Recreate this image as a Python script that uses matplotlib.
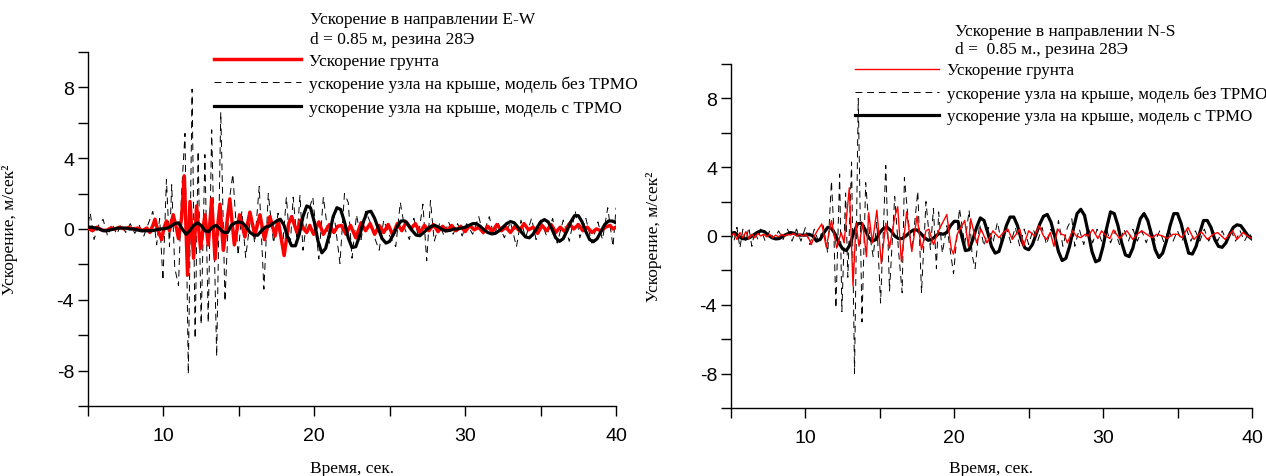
import numpy as np
import matplotlib
matplotlib.use("Agg")
import matplotlib.pyplot as plt
from matplotlib.ticker import MultipleLocator

plt.rcParams["axes.unicode_minus"] = False

# ---- data (time, sec / acceleration, m/s^2) ----

# E-W, ground acceleration (turning points)
ew_ground = [
    (5.0, 0.05), (5.3, -0.1), (5.6, 0.1), (5.9, -0.05), (6.2, -0.1), (6.5, 0.05),
    (6.8, 0.0), (7.1, 0.1), (7.4, 0.0), (7.7, 0.08), (8.0, 0.0), (8.3, 0.05),
    (8.6, -0.1), (8.9, 0.05), (9.1, -0.2), (9.3, 0.2), (9.44, 0.55), (9.6, 0.0),
    (9.88, -0.6), (10.05, 0.1), (10.2, 0.45), (10.4, -0.1), (10.65, 0.8), (10.85, 0.1),
    (11.0, -0.55), (11.2, 0.6), (11.38, 3.0), (11.6, -2.6), (11.76, 1.55), (12.0, -1.65),
    (12.2, 1.3), (12.46, -1.1), (12.75, 0.8), (12.97, -0.9), (13.2, 1.7), (13.42, -1.7),
    (13.6, 0.2), (13.75, 1.4), (13.97, -1.2), (14.2, 0.3), (14.4, 1.7), (14.7, -0.9),
    (15.05, 0.8), (15.4, -0.45), (15.73, 0.95), (16.06, -0.35), (16.4, 0.8), (16.7, -0.6),
    (17.06, 0.7), (17.4, -0.4), (17.6, 0.5), (18.0, -1.5), (18.3, 0.3), (18.5, 0.7),
    (18.85, -0.2), (19.07, 0.5), (19.3, 0.0), (19.5, -0.2), (19.7, 0.2), (19.95, -0.3),
    (20.3, 0.4), (20.6, -0.3), (21.0, 0.25), (21.3, -0.2), (21.55, 0.15), (21.8, 0.2),
    (22.1, -0.3), (22.4, 0.2), (22.75, -0.5), (23.1, 0.35), (23.4, -0.1), (23.7, 0.3),
    (24.0, -0.3), (24.3, 0.2), (24.6, -0.2), (24.9, 0.25), (25.2, -0.35), (25.5, 0.3),
    (25.8, -0.1), (26.1, 0.4), (26.4, 0.0), (26.7, 0.3), (27.0, -0.2), (27.3, 0.2),
    (27.6, -0.1), (27.9, 0.25), (28.2, -0.15), (28.5, 0.15), (28.8, -0.1), (29.1, 0.2),
    (29.4, -0.1), (29.7, 0.15), (30.0, -0.15), (30.3, 0.2), (30.6, -0.05), (30.9, 0.1),
    (31.2, -0.2), (31.5, 0.15), (31.8, -0.15), (32.1, 0.25), (32.4, -0.1), (32.7, 0.1),
    (33.0, -0.2), (33.3, 0.15), (33.6, -0.1), (33.9, 0.3), (34.2, -0.05), (34.5, 0.1),
    (34.8, -0.25), (35.1, 0.2), (35.4, -0.1), (35.7, 0.25), (36.0, -0.2), (36.3, 0.1),
    (36.6, -0.15), (36.9, 0.3), (37.2, 0.0), (37.5, 0.25), (37.8, -0.1), (38.1, 0.1),
    (38.4, -0.2), (38.7, 0.0), (39.0, -0.1), (39.3, 0.1), (39.6, 0.2), (39.8, 0.0),
    (40.0, 0.1),
]

# E-W, roof node, model without TRMO (turning points)
ew_roof_no = [
    (5.0, 0.3), (5.15, 0.9), (5.4, -0.6), (5.7, 0.2), (6.0, 0.55), (6.3, -0.4),
    (6.6, 0.3), (6.9, -0.3), (7.2, 0.25), (7.5, -0.2), (7.8, 0.3), (8.1, -0.25),
    (8.4, 0.2), (8.7, -0.4), (9.0, 0.3), (9.3, 1.0), (9.55, -0.9), (9.75, 0.6),
    (9.97, -2.9), (10.2, 2.8), (10.4, -1.0), (10.55, 2.5), (10.75, -2.2), (11.0, -3.2),
    (11.2, 2.0), (11.43, 5.4), (11.65, -8.2), (11.9, 7.9), (12.1, -6.2), (12.3, 4.4),
    (12.5, -5.4), (12.75, 4.2), (12.97, -5.3), (13.2, 5.6), (13.53, -7.2), (13.8, 6.6),
    (14.08, -4.1), (14.35, 1.5), (14.6, 3.1), (14.95, -1.5), (15.2, 1.0), (15.45, -1.6),
    (15.8, 0.8), (16.05, -0.8), (16.35, 2.4), (16.66, -3.4), (16.95, 2.0), (17.3, -0.8),
    (17.6, 0.9), (17.9, -1.0), (18.15, 1.8), (18.4, -1.0), (18.6, 1.8), (18.85, -0.6),
    (19.05, 1.9), (19.25, -1.2), (19.55, 0.8), (19.9, 1.8), (20.3, -1.7), (20.6, 1.8),
    (21.0, -0.8), (21.3, 0.9), (21.7, -1.95), (22.0, 2.0), (22.25, 1.5), (22.5, -1.65),
    (22.8, 0.8), (23.1, -0.6), (23.4, 1.0), (23.7, 0.4), (24.0, -0.5), (24.3, -1.2),
    (24.6, 0.5), (25.0, -0.4), (25.4, -1.0), (25.7, 1.5), (26.0, 0.0), (26.3, -0.6),
    (26.6, 0.6), (26.9, -0.4), (27.2, 1.4), (27.45, -1.8), (27.7, 1.6), (27.95, -0.7),
    (28.3, 0.3), (28.6, -0.4), (28.9, 0.4), (29.2, -0.3), (29.5, 0.3), (29.8, -0.4),
    (30.1, 0.3), (30.5, -0.3), (30.9, 0.7), (31.2, -0.3), (31.6, 0.7), (31.9, -0.4),
    (32.2, 0.3), (32.6, -0.5), (33.0, 0.4), (33.4, -1.0), (33.7, 0.5), (34.0, -0.5),
    (34.4, 0.6), (34.7, -0.6), (35.0, 0.5), (35.4, -0.4), (35.8, 0.6), (36.1, -0.8),
    (36.5, 0.5), (36.9, -0.7), (37.3, 1.0), (37.6, -0.5), (38.0, 0.6), (38.4, -0.8),
    (38.8, 0.4), (39.1, -0.6), (39.45, 1.2), (39.8, -1.0), (40.0, 1.2),
]

# E-W, roof node, model with TRMO: one row per second, values at .00 .25 .50 .75
ew_roof_trmo = [
    0.10, 0.10, 0.05, 0.00,      # 5
    -0.10, -0.10, -0.05, 0.00,   # 6
    0.05, 0.05, 0.05, 0.00,      # 7
    0.00, -0.05, -0.10, -0.10,   # 8
    -0.10, -0.10, -0.05, 0.00,   # 9
    0.00, 0.05, 0.15, 0.30,      # 10
    0.35, 0.00, -0.30, -0.10,    # 11
    0.20, 0.35, 0.20, -0.10,     # 12
    -0.15, 0.10, 0.20, 0.00,     # 13
    -0.20, -0.20, 0.20, 0.35,    # 14
    0.40, 0.35, 0.10, -0.20,     # 15
    -0.35, -0.35, -0.10, 0.10,   # 16
    0.15, 0.30, 0.45, 0.55,      # 17
    0.20, -0.50, -0.95, -0.95,   # 18
    -0.30, 0.70, 1.30, 1.20,     # 19
    0.40, -0.70, -1.35, -1.10,   # 20
    -0.30, 0.70, 1.20, 1.10,     # 21
    0.40, -0.50, -1.05, -1.00,   # 22
    -0.40, 0.40, 0.95, 1.00,     # 23
    0.60, 0.00, -0.55, -0.80,    # 24
    -0.70, -0.30, 0.15, 0.45,    # 25
    0.45, 0.20, -0.10, -0.35,    # 26
    -0.38, -0.20, 0.00, 0.15,    # 27
    0.20, 0.10, -0.05, -0.10,    # 28
    -0.08, 0.00, 0.00, 0.05,     # 29
    0.10, 0.20, 0.30, 0.30,      # 30
    0.15, -0.05, -0.20, -0.28,   # 31
    -0.25, -0.10, 0.10, 0.30,    # 32
    0.42, 0.35, 0.10, -0.20,     # 33
    -0.45, -0.50, -0.30, 0.05,   # 34
    0.40, 0.53, 0.40, 0.00,      # 35
    -0.50, -0.70, -0.55, -0.10,  # 36
    0.40, 0.75, 0.75, 0.40,      # 37
    -0.15, -0.60, -0.72, -0.55,  # 38
    -0.15, 0.25, 0.45, 0.45,     # 39
    0.35,                        # 40
]

# N-S, ground acceleration (turning points)
ns_ground = [
    (5.0, 0.0), (5.2, 0.15), (5.4, -0.2), (5.6, 0.2), (5.8, -0.1), (6.0, 0.25),
    (6.2, -0.15), (6.4, 0.1), (6.6, -0.1), (6.8, 0.15), (7.0, 0.0), (7.2, 0.1),
    (7.4, -0.05), (7.6, 0.1), (7.8, -0.1), (8.0, 0.05), (8.2, -0.05), (8.4, 0.1),
    (8.6, 0.0), (8.8, 0.1), (9.0, 0.05), (9.2, 0.15), (9.4, 0.0), (9.6, 0.1),
    (9.8, 0.0), (10.0, 0.1), (10.2, -0.1), (10.4, -0.5), (10.6, 0.0), (10.8, 0.3),
    (11.1, 0.7), (11.4, -0.65), (11.75, 0.9), (12.1, -0.7), (12.4, 0.2), (12.6, -0.4),
    (12.95, 2.8), (13.2, -2.9), (13.4, 0.75), (13.6, -0.6), (13.85, 0.75), (14.1, -1.2),
    (14.25, 1.35), (14.5, -0.4), (14.8, 1.5), (15.1, -1.6), (15.4, 0.75), (15.65, -0.7),
    (16.0, 1.1), (16.2, 1.7), (16.45, -1.5), (16.8, 1.4), (17.15, -0.9), (17.5, 1.15),
    (17.8, -0.8), (18.1, 0.3), (18.3, 0.4), (18.6, -0.5), (19.0, 0.4), (19.5, 1.25),
    (19.8, -0.75), (19.95, -1.05), (20.2, 0.1), (20.7, 0.9), (20.95, -0.6), (21.1, 1.0),
    (21.5, -0.4), (21.8, 0.4), (22.2, -0.4), (22.6, 0.3), (23.0, -0.1), (23.3, 0.2),
    (23.6, 0.4), (23.9, -0.2), (24.4, 0.4), (24.65, -0.6), (25.0, 0.3), (25.4, 0.0),
    (25.7, 0.6), (26.0, 0.0), (26.2, -0.2), (26.45, 0.2), (26.7, -0.6), (26.95, 0.4),
    (27.2, 0.1), (27.4, 0.05), (27.6, -0.4), (27.95, 0.3), (28.2, 0.0), (28.5, -0.1),
    (28.8, 0.1), (29.0, 0.0), (29.3, 0.38), (29.65, -0.15), (29.9, 0.3), (30.2, 0.0),
    (30.45, -0.15), (30.7, 0.35), (31.1, -0.15), (31.6, 0.3), (32.0, -0.2), (32.3, 0.1),
    (32.6, 0.3), (33.0, 0.05), (33.3, -0.1), (33.6, 0.1), (34.0, 0.0), (34.3, -0.15),
    (34.7, 0.1), (35.0, 0.1), (35.3, -0.1), (35.7, 0.5), (36.1, -0.2), (36.6, 0.25),
    (37.0, -0.2), (37.4, 0.1), (37.7, 0.2), (38.2, -0.2), (38.4, 0.0), (38.7, 0.3),
    (39.0, -0.2), (39.4, 0.2), (39.7, 0.0), (40.0, -0.15),
]

# N-S, roof node, model without TRMO (turning points)
ns_roof_no = [
    (5.0, 0.3), (5.2, -0.3), (5.4, 0.5), (5.6, -0.7), (5.8, 0.4), (6.0, -0.3),
    (6.2, 0.5), (6.4, -0.6), (6.6, 0.3), (6.8, -0.2), (7.0, 0.4), (7.3, -0.3),
    (7.6, 0.3), (7.9, -0.2), (8.2, 0.3), (8.5, -0.2), (8.8, 0.4), (9.1, -0.3),
    (9.4, 0.4), (9.7, -0.3), (10.0, 0.5), (10.3, -0.5), (10.6, 0.4), (10.9, -0.4),
    (11.2, 0.6), (11.5, -1.0), (11.75, 3.2), (11.9, 0.5), (12.05, -4.2), (12.3, 3.6),
    (12.45, -4.4), (12.7, 2.5), (12.85, -2.4), (13.1, 4.3), (13.3, -8.0), (13.55, 8.0),
    (13.8, -5.0), (14.05, 3.1), (14.3, 0.2), (14.55, -1.2), (14.8, 0.8), (15.05, -3.9),
    (15.4, 4.1), (15.65, -3.2), (16.0, 2.3), (16.25, -0.8), (16.5, -3.3), (16.65, 3.4),
    (16.9, 1.0), (17.15, -0.9), (17.55, 2.6), (17.8, -3.3), (18.1, 2.0), (18.4, -0.8),
    (18.6, 1.6), (18.8, -1.9), (18.95, 1.4), (19.2, -1.0), (19.5, 0.6), (19.95, -2.2),
    (20.35, 1.6), (20.7, -0.5), (21.0, 1.5), (21.2, -1.1), (21.4, -1.9), (21.7, 0.7),
    (22.0, -0.6), (22.3, 0.5), (22.6, -0.4), (22.9, 0.8), (23.2, -0.5), (23.5, 0.5),
    (23.8, -0.4), (24.1, 0.5), (24.4, -0.6), (24.7, 0.4), (25.0, -0.5), (25.3, 0.4),
    (25.6, -0.3), (25.9, 0.5), (26.2, -0.5), (26.5, 0.4), (26.8, -0.4), (27.0, 0.9),
    (27.3, -0.6), (27.6, 0.5), (27.9, 1.0), (28.1, -0.6), (28.4, 0.4), (28.7, -0.5),
    (29.0, 0.5), (29.3, -0.4), (29.6, 0.4), (29.9, -0.3), (30.2, 0.5), (30.5, -0.4),
    (30.8, 0.3), (31.1, -0.5), (31.4, 0.4), (31.7, -0.3), (32.0, 0.4), (32.3, -0.3),
    (32.6, 0.3), (32.9, -0.4), (33.2, 0.4), (33.5, -0.3), (33.8, 0.3), (34.1, -0.4),
    (34.4, 0.4), (34.7, -0.3), (35.0, 0.3), (35.3, -0.3), (35.6, 0.4), (35.9, -0.3),
    (36.2, 0.3), (36.5, -0.3), (36.8, 0.4), (37.1, -0.3), (37.4, 0.3), (37.7, -0.3),
    (38.0, 0.3), (38.3, -0.3), (38.6, 0.3), (38.9, -0.3), (39.2, 0.3), (39.5, -0.3),
    (39.8, 0.2), (40.0, -0.1),
]

# N-S, roof node, model with TRMO: one row per second, values at .00 .25 .50 .75
ns_roof_trmo = [
    0.15, 0.20, 0.00, -0.15,     # 5
    -0.17, -0.10, 0.05, 0.20,    # 6
    0.30, 0.25, 0.05, -0.10,     # 7
    -0.17, -0.15, 0.00, 0.10,    # 8
    0.20, 0.15, 0.05, 0.05,      # 9
    0.05, 0.10, 0.00, -0.30,     # 10
    -0.20, 0.20, 0.50, 0.45,     # 11
    0.10, -0.40, -0.75, -0.85,   # 12
    -0.50, 0.20, 0.70, 0.75,     # 13
    0.40, -0.10, -0.30, -0.20,   # 14
    0.20, 0.45, 0.50, 0.30,      # 15
    0.00, -0.15, -0.15, 0.00,    # 16
    0.20, 0.35, 0.35, 0.15,      # 17
    -0.10, -0.25, -0.20, 0.00,   # 18
    0.15, 0.10, 0.20, 0.60,      # 19
    0.85, 0.85, 0.00, -0.85,     # 20
    -0.80, -0.20, 0.50, 1.05,    # 21
    0.90, 0.20, -0.60, -1.00,    # 22
    -0.90, -0.20, 0.60, 1.10,    # 23
    1.10, 0.60, -0.20, -0.70,    # 24
    -0.80, -0.50, 0.10, 0.70,    # 25
    1.15, 1.25, 0.80, 0.00,      # 26
    -0.90, -1.43, -1.30, -0.60,  # 27
    0.40, 1.30, 1.55, 1.20,      # 28
    0.20, -0.90, -1.50, -1.40,   # 29
    -0.60, 0.50, 1.40, 1.30,     # 30
    0.60, -0.40, -1.10, -1.20,   # 31
    -0.70, 0.20, 1.00, 1.30,     # 32
    0.90, 0.10, -0.80, -1.25,    # 33
    -1.00, -0.30, 0.60, 1.30,    # 34
    1.30, 0.70, -0.20, -1.00,    # 35
    -1.05, -0.60, 0.20, 0.90,    # 36
    0.90, 0.50, -0.20, -0.60,    # 37
    -0.66, -0.40, 0.10, 0.50,    # 38
    0.65, 0.60, 0.30, 0.00,      # 39
    -0.17,                       # 40
]

t_trmo = np.arange(5, 40.001, 0.25)

labels = [
    "Ускорение грунта",
    "ускорение узла на крыше, модель без ТРМО",
    "ускорение узла на крыше, модель с ТРМО",
]
titles = [
    ("Ускорение в направлении E-W", "d = 0.85 м, резина 28Э"),
    ("Ускорение в направлении N-S", "d =  0.85 м., резина 28Э"),
]

serif = "Liberation Serif"
sans = "Liberation Sans"

fig = plt.figure(figsize=(12.66, 4.77), dpi=100)
ax1 = fig.add_axes([0.0695, 0.1468, 0.4171, 0.7422])
ax2 = fig.add_axes([0.5774, 0.1426, 0.4115, 0.7212])


def draw(ax, ground, roof_no, roof_trmo, red_lw, red_on_top):
    tg, ag = zip(*ground)
    tn, an = zip(*roof_no)
    l2, = ax.plot(tn, an, color="black", lw=0.7, dashes=(7, 5), zorder=2)
    l1, = ax.plot(tg, ag, color="red", lw=red_lw, zorder=4 if red_on_top else 3)
    l3, = ax.plot(t_trmo, roof_trmo, color="black", lw=2.3,
                  zorder=3 if red_on_top else 4)

    ax.set_xlim(5, 40)
    ax.set_ylim(-10, 10)
    ax.xaxis.set_major_locator(MultipleLocator(10))
    ax.xaxis.set_minor_locator(MultipleLocator(5))
    ax.yaxis.set_major_locator(MultipleLocator(4))
    ax.yaxis.set_minor_locator(MultipleLocator(2))
    ax.tick_params(which="both", direction="out", length=7, width=1, color="black")
    ax.tick_params(axis="x", pad=8)
    ax.tick_params(axis="y", pad=3)
    for lab in ax.get_xticklabels() + ax.get_yticklabels():
        lab.set_fontfamily(sans)
        lab.set_fontsize(14)
    for s in ["top", "right"]:
        ax.spines[s].set_visible(False)
    for s in ["left", "bottom"]:
        ax.spines[s].set_linewidth(1)

    ax.set_xlabel("Время, сек.", fontfamily=serif, fontsize=12.5)
    ax.set_ylabel("Ускорение, м/сек²", fontfamily=serif, fontsize=12.5)
    ax.xaxis.set_label_coords(0.5, -0.152)
    ax.yaxis.set_label_coords(-0.133, 0.5)
    return [l1, l2, l3]


h1 = draw(ax1, ew_ground, ew_roof_no, ew_roof_trmo, 2.5, False)
h2 = draw(ax2, ns_ground, ns_roof_no, ns_roof_trmo, 1.0, True)

# titles above the legends
fig.text(0.245, 0.958, titles[0][0], fontfamily=serif, fontsize=12.5, va="center")
fig.text(0.245, 0.916, titles[0][1], fontfamily=serif, fontsize=12.5, va="center")
fig.text(0.7545, 0.933, titles[1][0], fontfamily=serif, fontsize=12.5, va="center")
fig.text(0.7545, 0.895, titles[1][1], fontfamily=serif, fontsize=12.5, va="center")

leg_kw = dict(loc="upper left", frameon=False, handlelength=5.0,
              handletextpad=0.45, labelspacing=0.4, borderpad=0,
              borderaxespad=0)
fig.legend(h1, labels, bbox_to_anchor=(0.169, 0.887),
           prop={"family": serif, "size": 12.5}, **leg_kw)
fig.legend(h2, labels, bbox_to_anchor=(0.675, 0.867),
           prop={"family": serif, "size": 12.2}, **leg_kw)

fig.savefig("out.png", dpi=100)
